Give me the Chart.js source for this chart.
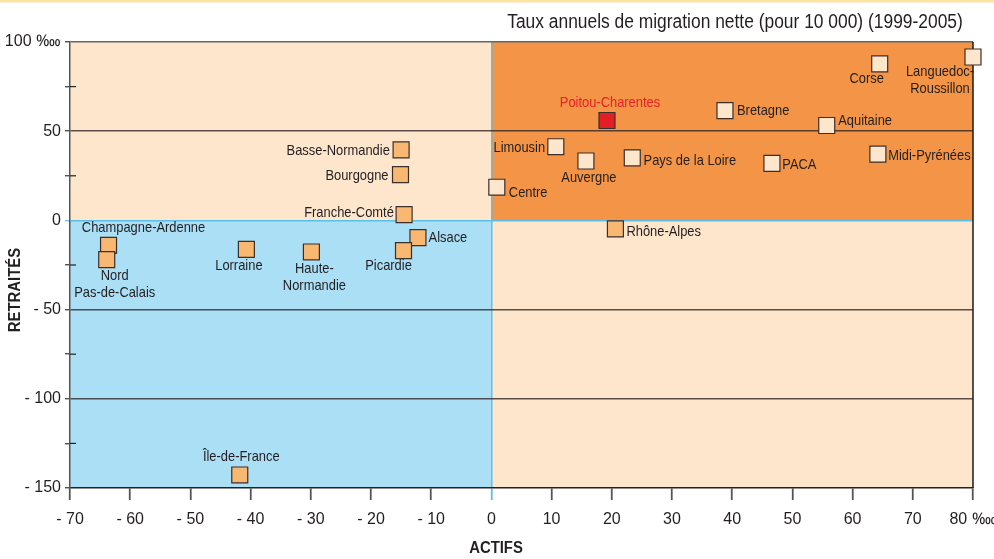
<!DOCTYPE html>
<html>
<head>
<meta charset="utf-8">
<script src="https://cdn.jsdelivr.net/npm/chart.js@4.4.1/dist/chart.umd.min.js"></script>
<style>
  html,body{margin:0;padding:0;background:#fff;}
  #wrap{width:994px;height:559px;}
</style>
</head>
<body>
<div id="wrap"><canvas id="chart" width="994" height="559"></canvas></div>
<script>
// --- Data ---
const regions = [
  'Corse','Languedoc-\nRoussillon','Poitou-Charentes','Bretagne','Aquitaine',
  'Limousin','Auvergne','Pays de la Loire','PACA','Midi-Pyrénées','Centre','Rhône-Alpes',
  'Basse-Normandie','Bourgogne','Franche-Comté','Alsace','Picardie','Haute-\nNormandie',
  'Lorraine','Champagne-Ardenne','Nord\nPas-de-Calais','Île-de-France'
];
const actifs    = [64.5, 80.0, 19.2, 38.8, 55.7, 10.7, 15.7, 23.4, 46.6, 64.2, 0.9, 20.6,
                   -15.0, -15.1, -14.5, -12.2, -14.6, -29.9, -40.7, -63.6, -63.9, -41.8];
const retraites = [87.7, 91.6, 56.0, 61.5, 53.2, 41.3, 33.3, 35.0, 32.0, 37.2, 18.6, -4.8,
                   39.5, 25.7, 3.2, -9.7, -16.9, -17.7, -16.2, -14.0, -22.0, -142.7];
const highlight = 'Poitou-Charentes';

const xTicks = { min:-70, max:80, step:10 };
const yTicks = { min:-150, max:100, step:25 };

// label placement next to each square: [dx, dy, align]
const labelPlace = [
  [-13,15,'center'], [-33,15,'center'], [3,-18,'center'], [12,0,'left'], [11.5,-4.5,'left'],
  [-10.7,1,'right'], [3,16.7,'center'], [11.3,3,'left'], [10.3,1.7,'left'], [10.3,2,'left'],
  [12,5.4,'left'], [11,3,'left'],
  [-11.3,0.7,'right'], [-12,1.2,'right'], [-10.3,-1.7,'right'], [10.6,0.6,'left'],
  [-15,15.5,'center'], [3,17.3,'center'], [-7.5,16.7,'center'], [35,-17.3,'center'],
  [8,16,'center'], [1.5,-17.7,'center']
];

const C = {
  peach:'#FDE6CB', orange:'#F39447', blue:'#ABDFF6', zero:'#5BC0E8',
  grid:'rgba(45,35,35,0.78)', text:'#231F20', red:'#E8202A',
  ptPale:'#FDE6CB', ptOrange:'#F9B872', ptRed:'#E31E24'
};
const FONT = '"Liberation Sans", Arial, sans-serif';

const permyriad = '\u2031';
const fmtTick = (v, top) => {
  if (v === top) return v + ' ' + permyriad;
  return v < 0 ? '- ' + (-v) : String(v);
};

function drawText(ctx, str, x, y, align, font, color, sx){
  ctx.save();
  ctx.font = font; ctx.fillStyle = color; ctx.textBaseline = 'middle'; ctx.textAlign = align;
  ctx.translate(x, y); ctx.scale(sx, 1);
  ctx.fillText(str, 0, 0);
  ctx.restore();
}

const decor = {
  id:'decor',
  beforeDraw(chart){
    const { ctx, chartArea:a, scales:{x, y} } = chart;
    const x0 = x.getPixelForValue(0), y0 = y.getPixelForValue(0);
    ctx.save();
    ctx.fillStyle = '#FCE3A2'; ctx.fillRect(0, 0, chart.width, 2.5);
    ctx.fillStyle = C.peach;  ctx.fillRect(a.left, a.top, x0 - a.left, y0 - a.top);
    ctx.fillStyle = C.orange; ctx.fillRect(x0, a.top, a.right - x0, y0 - a.top);
    ctx.fillStyle = C.blue;   ctx.fillRect(a.left, y0, x0 - a.left, a.bottom - y0);
    ctx.fillStyle = C.peach;  ctx.fillRect(x0, y0, a.right - x0, a.bottom - y0);
    ctx.restore();
  },
  beforeDatasetsDraw(chart){
    const { ctx, chartArea:a, scales:{y} } = chart;
    ctx.save();
    ctx.strokeStyle = '#1a1a1a'; ctx.lineWidth = 1.5;
    ctx.beginPath(); ctx.moveTo(a.right, a.top); ctx.lineTo(a.right, a.bottom); ctx.stroke();
    // minor ticks cross the axis
    ctx.strokeStyle = '#222'; ctx.lineWidth = 1.2;
    for (let v = yTicks.min; v <= yTicks.max; v += yTicks.step){
      if (v % 50 === 0) continue;
      const py = y.getPixelForValue(v);
      ctx.beginPath(); ctx.moveTo(a.left, py); ctx.lineTo(a.left + 6, py); ctx.stroke();
    }
    ctx.restore();
  },
  afterDatasetsDraw(chart){
    const { ctx } = chart;
    const meta = chart.getDatasetMeta(0);
    const f = '15px ' + FONT;
    meta.data.forEach((pt, i) => {
      const [dx, dy, al] = labelPlace[i];
      const col = regions[i] === highlight ? C.red : C.text;
      regions[i].split('\n').forEach((line, k) => {
        drawText(ctx, line, pt.x + dx, pt.y + dy + k * 17, al, f, col, 0.86);
      });
    });
    drawText(ctx, 'Taux annuels de migration nette (pour 10 000) (1999-2005)', 735, 22, 'center', '20px ' + FONT, C.text, 0.87);
    drawText(ctx, 'ACTIFS', 496, 549, 'center', 'bold 16px ' + FONT, C.text, 0.93);
    ctx.save();
    ctx.translate(16, 290); ctx.rotate(-Math.PI / 2);
    drawText(ctx, 'RETRAITÉS', 0, 0, 'center', 'bold 16px ' + FONT, C.text, 0.93);
    ctx.restore();
  }
};

const points = actifs.map((v, i) => ({ x: v, y: retraites[i] }));

new Chart(document.getElementById('chart'), {
  type:'scatter',
  data:{ datasets:[{
    data: points,
    pointStyle:'rect',
    pointRadius:11.3, pointHoverRadius:11.3,
    borderWidth:1.2, borderColor:'#3b2f2b',
    backgroundColor:(c)=>{
      const i = c.dataIndex; if (i == null) return C.ptOrange;
      if (regions[i] === highlight) return C.ptRed;
      return (actifs[i] > 0 && retraites[i] > 0) ? C.ptPale : C.ptOrange;
    },
    clip:false
  }]},
  options:{
    responsive:false, animation:false, devicePixelRatio:1,
    layout:{ padding:{ left:0, right:21, top:42, bottom:0 } },
    plugins:{ legend:{display:false}, tooltip:{enabled:false} },
    scales:{
      x:{
        type:'linear', min:xTicks.min, max:xTicks.max,
        afterFit:(s)=>{ s.height = 71; s.paddingLeft = 0; s.paddingRight = 0; },
        ticks:{ stepSize:xTicks.step, color:C.text, font:{family:FONT, size:16}, padding:10,
                maxRotation:0, autoSkip:false, callback:(v)=>fmtTick(v, xTicks.max) },
        grid:{
          color:(c)=> c.tick && c.tick.value === 0 ? C.zero : 'transparent',
          tickColor:(c)=> c.tick && c.tick.value === 0 ? C.zero : '#555',
          lineWidth:1.5, tickWidth:1.8, tickLength:12
        },
        border:{ color:'#222', width:1.5 }
      },
      y:{
        type:'linear', min:yTicks.min, max:yTicks.max,
        afterFit:(s)=>{ s.width = 70; s.paddingTop = 0; s.paddingBottom = 0; },
        ticks:{ stepSize:yTicks.step, color:C.text, font:{family:FONT, size:16}, padding:4,
                autoSkip:false, callback:(v)=> v % 50 === 0 ? fmtTick(v, yTicks.max) : '' },
        grid:{
          color:(c)=>{
            const v = c.tick ? c.tick.value : null;
            if (v === 0) return C.zero;
            if (v === yTicks.max) return '#666';
            if (v === yTicks.min || v % 50 !== 0) return 'transparent';
            return C.grid;
          },
          tickColor:(c)=> c.tick && c.tick.value === 0 ? C.zero : '#333',
          lineWidth:1.5, tickWidth:1.2, tickLength:5
        },
        border:{ color:'#555', width:1.5 }
      }
    }
  },
  plugins:[decor]
});
</script>
</body>
</html>
